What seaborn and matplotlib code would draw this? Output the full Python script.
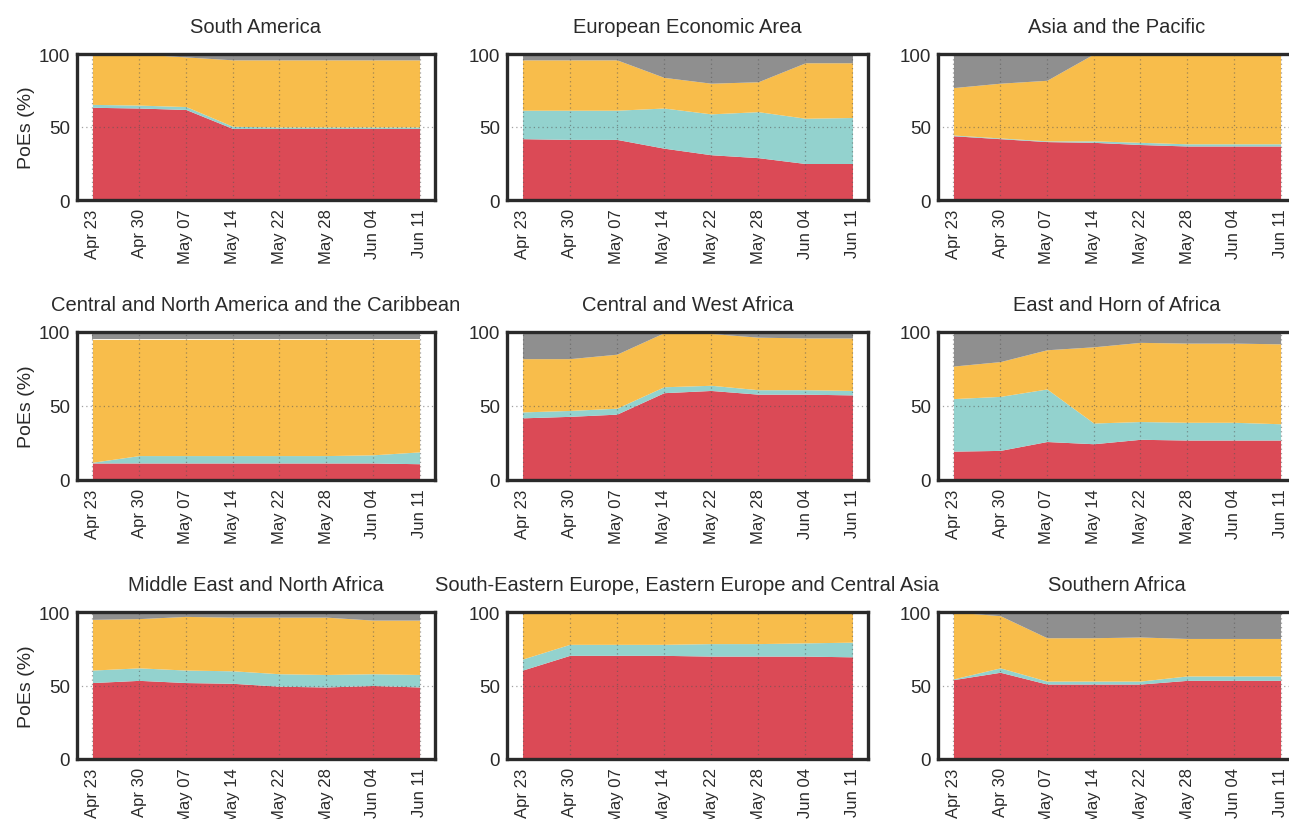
import matplotlib
matplotlib.use("Agg")
import matplotlib.pyplot as plt
import seaborn as sns

# Reporting weeks (x axis)
weeks = ["Apr 23", "Apr 30", "May 07", "May 14", "May 22", "May 28", "Jun 04", "Jun 11"]

# Share of points of entry (%) per region, one list per status band
sa_red = [63.5, 63, 62, 49, 49, 49, 49, 49]
sa_teal = [2, 2, 2, 1.5, 1, 1, 1, 1]
sa_yellow = [34.5, 35, 34, 45.5, 46, 46, 46, 46]
sa_gray = [0, 0, 2, 4, 4, 4, 4, 4]

eea_red = [42, 41.5, 41.5, 35.5, 31, 29, 25, 25]
eea_teal = [19.5, 20, 20, 27.5, 28, 31.5, 31, 31.5]
eea_yellow = [34.5, 34.5, 34.5, 21, 21, 20.5, 38, 37.5]
eea_gray = [4, 4, 4, 16, 20, 19, 6, 6]

ap_red = [44, 42, 40, 39.5, 38, 37, 37, 37]
ap_teal = [0.5, 0.5, 0.5, 1, 1.5, 1.5, 1.5, 1.5]
ap_yellow = [32.5, 37.5, 41.5, 59.5, 60.5, 61.5, 61.5, 61.5]
ap_gray = [23, 20, 18, 0, 0, 0, 0, 0]

cnac_red = [11.5, 11.5, 11.5, 11.5, 11.5, 11.5, 11.5, 11]
cnac_teal = [0.5, 5, 5, 5, 5, 5, 5.5, 8]
cnac_yellow = [83, 78.5, 78.5, 78.5, 78.5, 78.5, 78, 76]
cnac_gray = [5, 5, 5, 5, 5, 5, 5, 5]

cwa_red = [42, 43, 44.5, 59, 60.5, 58, 58, 57.5]
cwa_teal = [4, 4, 4, 4, 3.5, 3, 3, 3]
cwa_yellow = [36, 35, 36.5, 36.5, 35, 35.5, 35, 35.5]
cwa_gray = [18, 18, 15, 0.5, 1, 3.5, 4, 4]

eha_red = [19.5, 20, 26, 24.5, 27.5, 27, 27, 27]
eha_teal = [35.5, 36.5, 35.5, 14, 12, 12, 12, 11]
eha_yellow = [22, 23.5, 26.5, 51.5, 53.5, 53.5, 53.5, 54]
eha_gray = [23, 20, 12, 10, 7, 7.5, 7.5, 8]

mena_red = [52, 53.5, 52, 51.5, 49.5, 49, 50, 49]
mena_teal = [8.5, 8.5, 8.5, 8.5, 8.5, 8.5, 8, 8.5]
mena_yellow = [34.5, 33.5, 36.5, 36.5, 38.5, 39, 36.5, 37]
mena_gray = [5, 4.5, 3, 3.5, 3.5, 3.5, 5.5, 5.5]

see_red = [60.5, 70.5, 70.5, 70.5, 70, 70, 70, 69.5]
see_teal = [7.5, 7.5, 7.5, 7.5, 8.5, 8.5, 9, 10]
see_yellow = [32, 22, 22, 22, 21.5, 21.5, 21, 20.5]
see_gray = [0, 0, 0, 0, 0, 0, 0, 0]

saf_red = [54, 59, 51, 51, 51, 53.5, 53.5, 53.5]
saf_teal = [0.5, 3, 2, 2, 2, 3, 3, 3]
saf_yellow = [45.5, 35.5, 29.5, 29.5, 30, 25.5, 25.5, 25.5]
saf_gray = [0, 2.5, 17.5, 17.5, 17, 18, 18, 18]

regions = [
    ("South America", sa_red, sa_teal, sa_yellow, sa_gray),
    ("European Economic Area", eea_red, eea_teal, eea_yellow, eea_gray),
    ("Asia and the Pacific", ap_red, ap_teal, ap_yellow, ap_gray),
    ("Central and North America and the Caribbean", cnac_red, cnac_teal, cnac_yellow, cnac_gray),
    ("Central and West Africa", cwa_red, cwa_teal, cwa_yellow, cwa_gray),
    ("East and Horn of Africa", eha_red, eha_teal, eha_yellow, eha_gray),
    ("Middle East and North Africa", mena_red, mena_teal, mena_yellow, mena_gray),
    ("South-Eastern Europe, Eastern Europe and Central Asia", see_red, see_teal, see_yellow, see_gray),
    ("Southern Africa", saf_red, saf_teal, saf_yellow, saf_gray),
]

sns.set_theme(style="white")
plt.rcParams["font.family"] = ["Liberation Sans", "DejaVu Sans"]
palette = sns.color_palette(["#db4a56", "#93d2ce", "#f8bd4b", "#8f8f8f"])
ink = "#2a2a2a"

W, H = 1289, 820
fig = plt.figure(figsize=(W / 100, H / 100), dpi=100)

col_left = [77, 507, 938]
col_width = [358, 361, 358]
row_top = [55, 333, 613]
row_height = [146, 148, 147]

x = list(range(len(weeks)))
for i, (title, red, teal, yellow, gray) in enumerate(regions):
    r, c = divmod(i, 3)
    left = col_left[c] / W
    bottom = 1 - (row_top[r] + row_height[r]) / H
    ax = fig.add_axes([left, bottom, col_width[c] / W, row_height[r] / H])
    ax.stackplot(x, red, teal, yellow, gray, colors=palette, linewidth=0, zorder=1)
    ax.set_xlim(-0.33, len(weeks) - 1 + 0.33)
    ax.set_ylim(0, 100)
    ax.set_yticks([0, 50, 100])
    ax.set_xticks(x)
    ax.set_xticklabels(weeks, rotation=90, fontsize=12)
    ax.tick_params(axis="both", length=0, colors=ink)
    ax.tick_params(axis="y", pad=5, labelsize=13.5)
    ax.tick_params(axis="x", pad=6)
    ax.grid(True, axis="both", linestyle=(0, (1, 2.5)), color="#555555",
            linewidth=0.9, alpha=0.55, zorder=2)
    ax.set_axisbelow(False)
    for sp in ax.spines.values():
        sp.set_visible(True)
        sp.set_color(ink)
        sp.set_linewidth(2.4)
        sp.set_zorder(3)
    ax.set_title(title, fontsize=14.5, color=ink, pad=16)
    if c == 0:
        ax.set_ylabel("PoEs (%)", fontsize=14, color=ink, labelpad=3)

fig.savefig("out.png", dpi=100, facecolor="white")
